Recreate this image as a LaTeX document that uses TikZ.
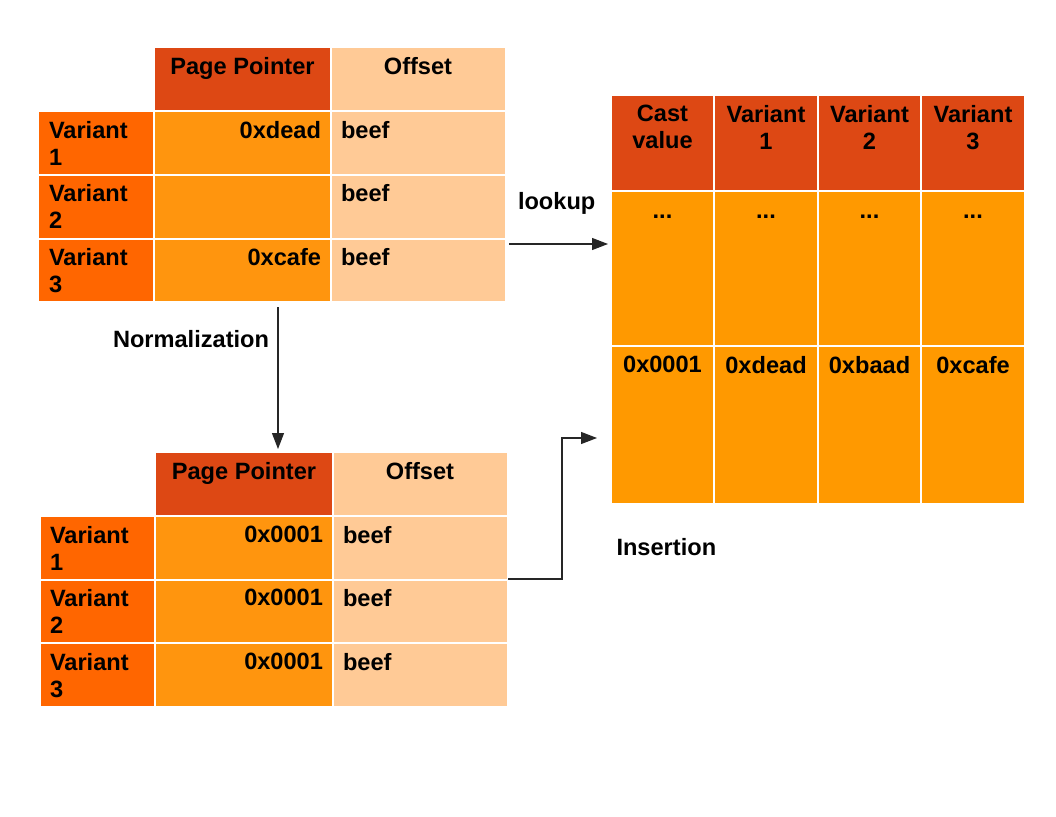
\documentclass[tikz,border=0pt]{standalone}
\usepackage{fontspec}
\setmainfont{Liberation Sans}
\usetikzlibrary{arrows.meta}
\definecolor{hdr}{HTML}{DD4814}
\definecolor{vcol}{HTML}{FF6600}
\definecolor{bodyc}{HTML}{FF950E}
\definecolor{offs}{HTML}{FFCA96}
\definecolor{rbody}{HTML}{FF9900}
\newcommand\cellbox[6]{\node[cell,fill=#6,minimum width={(#4)-(#2)},minimum height={(#5)-(#3)}] (#1) at (#2,#3) {};}
\begin{document}
\begin{tikzpicture}[x=1pt,y=-1pt,
  cell/.style={draw=white,line width=2pt,inner sep=0pt,outer sep=0pt,anchor=north west},
  txt/.style={inner sep=0pt,outer sep=0pt,font=\bfseries\fontsize{23.6}{27}\selectfont,text=black},
  conn/.style={line width=1.2pt,draw=black!85,-{Triangle[length=16pt,width=12pt]}}]
\useasboundingbox[fill=white] (0,0) rectangle (1056,816);

% ---------- top table ----------
\cellbox{tpp}{153.5}{47}{331}{111}{hdr}
\cellbox{toff}{331}{47}{506}{111}{offs}
\cellbox{tv1}{38}{111}{153.5}{174.5}{vcol}
\cellbox{tp1}{153.5}{111}{331}{174.5}{bodyc}
\cellbox{to1}{331}{111}{506}{174.5}{offs}
\cellbox{tv2}{38}{174.5}{153.5}{238.5}{vcol}
\cellbox{tp2}{153.5}{174.5}{331}{238.5}{bodyc}
\cellbox{to2}{331}{174.5}{506}{238.5}{offs}
\cellbox{tv3}{38}{238.5}{153.5}{302}{vcol}
\cellbox{tp3}{153.5}{238.5}{331}{302}{bodyc}
\cellbox{to3}{331}{238.5}{506}{302}{offs}

\node[txt,anchor=north] (tppT) at (242.5,57.5) {Page Pointer};
\node[txt,anchor=north] (toffT) at (418,57.5) {Offset};
\node[txt,anchor=north west,align=left] (tv1T) at (49,121.5) {Variant\\1};
\node[txt,anchor=north west,align=left] (tv2T) at (49,184.5) {Variant\\2};
\node[txt,anchor=north west,align=left] (tv3T) at (49,248.5) {Variant\\3};
\node[txt,anchor=north east] (tp1T) at (321,121.5) {0xdead};
\node[txt,anchor=north east] (tp3T) at (321,248.5) {0xcafe};
\node[txt,anchor=north west] (to1T) at (341,121.5) {beef};
\node[txt,anchor=north west] (to2T) at (341,184.5) {beef};
\node[txt,anchor=north west] (to3T) at (341,248.5) {beef};

% ---------- bottom table ----------
\cellbox{bpp}{155}{452}{333}{516}{hdr}
\cellbox{boff}{333}{452}{508}{516}{offs}
\cellbox{bv1}{40}{516}{155}{579.5}{vcol}
\cellbox{bp1}{155}{516}{333}{579.5}{bodyc}
\cellbox{bo1}{333}{516}{508}{579.5}{offs}
\cellbox{bv2}{40}{579.5}{155}{643}{vcol}
\cellbox{bp2}{155}{579.5}{333}{643}{bodyc}
\cellbox{bo2}{333}{579.5}{508}{643}{offs}
\cellbox{bv3}{40}{643}{155}{707}{vcol}
\cellbox{bp3}{155}{643}{333}{707}{bodyc}
\cellbox{bo3}{333}{643}{508}{707}{offs}

\node[txt,anchor=north] (bppT) at (244,462) {Page Pointer};
\node[txt,anchor=north] (boffT) at (420,462) {Offset};
\node[txt,anchor=north west,align=left] (bv1T) at (50,526) {Variant\\1};
\node[txt,anchor=north west,align=left] (bv2T) at (50,589) {Variant\\2};
\node[txt,anchor=north west,align=left] (bv3T) at (50,653) {Variant\\3};
\node[txt,anchor=north east] (bp1T) at (323,526) {0x0001};
\node[txt,anchor=north east] (bp2T) at (323,589) {0x0001};
\node[txt,anchor=north east] (bp3T) at (323,653) {0x0001};
\node[txt,anchor=north west] (bo1T) at (343,526) {beef};
\node[txt,anchor=north west] (bo2T) at (343,589) {beef};
\node[txt,anchor=north west] (bo3T) at (343,653) {beef};

% ---------- right table ----------
\cellbox{rh1}{611}{95}{714}{190.5}{hdr}
\cellbox{rh2}{714}{95}{818}{190.5}{hdr}
\cellbox{rh3}{818}{95}{921}{190.5}{hdr}
\cellbox{rh4}{921}{95}{1025}{190.5}{hdr}
\cellbox{ra1}{611}{190.5}{714}{346}{rbody}
\cellbox{ra2}{714}{190.5}{818}{346}{rbody}
\cellbox{ra3}{818}{190.5}{921}{346}{rbody}
\cellbox{ra4}{921}{190.5}{1025}{346}{rbody}
\cellbox{rb1}{611}{346}{714}{504}{rbody}
\cellbox{rb2}{714}{346}{818}{504}{rbody}
\cellbox{rb3}{818}{346}{921}{504}{rbody}
\cellbox{rb4}{921}{346}{1025}{504}{rbody}

\node[txt,anchor=north,align=center] (rh1T) at (662.5,105.5) {Cast\\value};
\node[txt,anchor=north,align=center] (rh2T) at (766,105.5) {Variant\\1};
\node[txt,anchor=north,align=center] (rh3T) at (869.5,105.5) {Variant\\2};
\node[txt,anchor=north,align=center] (rh4T) at (973,105.5) {Variant\\3};
\node[txt,anchor=base] (ra1T) at (662.5,218) {...};
\node[txt,anchor=base] (ra2T) at (766,218) {...};
\node[txt,anchor=base] (ra3T) at (869.5,218) {...};
\node[txt,anchor=base] (ra4T) at (973,218) {...};
\node[txt,anchor=north] (rb1T) at (662.5,356) {0x0001};
\node[txt,anchor=north] (rb2T) at (766,356) {0xdead};
\node[txt,anchor=north] (rb3T) at (869.5,356) {0xbaad};
\node[txt,anchor=north] (rb4T) at (973,356) {0xcafe};

% ---------- labels ----------
\node[txt,anchor=north west] (lookupL) at (518,192) {lookup};
\node[txt,anchor=north west] (normL) at (113,330) {Normalization};
\node[txt,anchor=north west] (insL) at (616.5,538) {Insertion};

% ---------- connectors ----------
\coordinate (lookS) at (509,244);
\coordinate (lookE) at (608,244);
\draw[conn] (lookS) -- (lookE);
\coordinate (normS) at (278,307);
\coordinate (normE) at (278,449);
\draw[conn] (normS) -- (normE);
\coordinate (insS) at (508,579);
\coordinate (insM) at (562,438);
\coordinate (insE) at (597,438);
\draw[conn] (insS) -| (insM) -- (insE);
\end{tikzpicture}
\end{document}
